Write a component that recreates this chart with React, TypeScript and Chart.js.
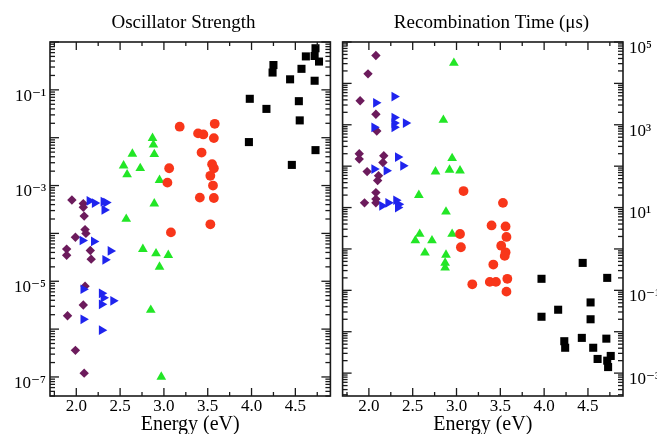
import React, { useEffect, useRef } from "react";
import { Chart, registerables } from "chart.js";

Chart.register(...registerables);

// ---------- Data ----------
// Left panel: Oscillator Strength vs Energy (eV)
const oscPurpleE = [1.95, 2.08, 2.08, 2.09, 2.10, 2.11, 1.99, 1.89, 1.89, 2.16, 2.17, 2.10, 2.08, 1.90, 1.99, 2.09];
const oscPurpleF = [5.0e-4, 4.2e-4, 3.5e-4, 2.3e-4, 1.2e-4, 1.0e-4, 8.3e-5, 4.7e-5, 3.5e-5, 4.4e-5, 2.9e-5, 7.9e-6, 3.2e-6, 1.9e-6, 3.6e-7, 1.2e-7];

const oscBlueE = [2.15, 2.21, 2.31, 2.34, 2.32, 2.07, 2.20, 2.39, 2.33, 2.08, 2.29, 2.31, 2.29, 2.42, 2.08, 2.29];
const oscBlueF = [4.8e-4, 4.3e-4, 4.6e-4, 4.4e-4, 3.1e-4, 7.1e-5, 6.8e-5, 4.3e-5, 2.8e-5, 6.8e-6, 5.6e-6, 4.5e-6, 3.3e-6, 3.9e-6, 1.6e-6, 9.5e-7];

const oscGreenE = [2.87, 2.88, 2.89, 2.64, 2.54, 2.58, 2.73, 2.95, 2.89, 2.57, 2.76, 2.91, 3.05, 2.95, 2.85, 2.97];
const oscGreenF = [9.8e-3, 7.1e-3, 4.5e-3, 4.6e-3, 2.6e-3, 1.7e-3, 2.3e-3, 1.3e-3, 4.2e-4, 2.0e-4, 4.7e-5, 3.8e-5, 3.5e-5, 2.0e-5, 2.5e-6, 1.0e-7];

const oscRedE = [3.18, 3.39, 3.45, 3.58, 3.57, 3.43, 3.06, 3.04, 3.55, 3.57, 3.53, 3.56, 3.41, 3.57, 3.08, 3.53];
const oscRedF = [1.7e-2, 1.23e-2, 1.17e-2, 1.95e-2, 9.8e-3, 4.9e-3, 2.3e-3, 1.15e-3, 2.8e-3, 2.3e-3, 1.6e-3, 1.0e-3, 5.6e-4, 5.5e-4, 1.05e-4, 1.55e-4];

const oscBlackE = [4.73, 4.62, 4.72, 4.77, 4.25, 4.24, 4.57, 4.44, 4.72, 3.98, 4.17, 4.54, 4.55, 3.97, 4.73, 4.46];
const oscBlackF = [0.74, 0.50, 0.51, 0.39, 0.33, 0.23, 0.275, 0.166, 0.155, 0.065, 0.040, 0.058, 0.023, 0.0081, 0.0055, 0.0027];

// Right panel: Recombination Time (us) vs Energy (eV)
const recPurpleE = [2.08, 1.99, 1.90, 2.08, 2.09, 1.89, 1.89, 2.17, 2.16, 1.98, 2.11, 2.10, 2.08, 2.08, 1.95, 2.08];
const recPurpleT = [4.7e4, 1.7e4, 3.8e3, 1.8e3, 710, 200, 148, 178, 123, 74, 59, 45, 23, 16, 13, 13];

const recBlueE = [2.08, 2.29, 2.06, 2.29, 2.29, 2.29, 2.42, 2.33, 2.39, 2.06, 2.20, 2.15, 2.22, 2.31, 2.34, 2.33];
const recBlueT = [3.4e3, 4.8e3, 870, 1.5e3, 1.1e3, 870, 1.1e3, 166, 102, 85, 78, 11, 13, 15, 12, 10];

const recGreenE = [2.97, 2.85, 2.95, 2.76, 2.92, 3.04, 2.57, 2.88, 2.58, 2.53, 2.72, 2.95, 2.64, 2.88, 2.87, 2.87];
const recGreenT = [3.1e4, 1.3e3, 155, 74, 81, 78, 20, 7.9, 2.3, 1.6, 1.6, 2.3, 0.81, 0.72, 0.46, 0.35];

const recRedE = [3.08, 3.53, 3.40, 3.56, 3.57, 3.51, 3.56, 3.55, 3.04, 3.05, 3.42, 3.18, 3.38, 3.45, 3.58, 3.57];
const recRedT = [25, 13, 3.7, 3.5, 1.95, 1.2, 0.83, 0.68, 2.3, 1.1, 0.42, 0.14, 0.16, 0.16, 0.19, 0.093];

const recBlackE = [3.97, 3.97, 4.16, 4.23, 4.24, 4.44, 4.43, 4.53, 4.53, 4.56, 4.72, 4.71, 4.61, 4.72, 4.76, 4.73];
const recBlackT = [0.19, 0.023, 0.034, 0.0059, 0.0041, 0.46, 0.0071, 0.051, 0.020, 0.0041, 0.20, 0.0068, 0.0022, 0.0020, 0.0026, 0.0014];

// Axis ticks
const energyTicks = [2.0, 2.5, 3.0, 3.5, 4.0, 4.5];
const energyMinorTicks = [1.75, 2.25, 2.75, 3.25, 3.75, 4.25, 4.75];
const oscLabelExps = [-1, -3, -5, -7];
const recLabelExps = [5, 3, 1, -1, -3];

// ---------- Styling helpers ----------
const SERIF = "'Liberation Serif', 'Times New Roman', 'DejaVu Serif', serif";
const PURPLE = "#6c1b5c";
const BLUE = "#1f24ee";
const GREEN = "#22e626";
const RED = "#f8361a";
const BLACK = "#000000";

const SUP: Record<string, string> = {
  "-": "\u207B", "0": "\u2070", "1": "\u00B9", "2": "\u00B2", "3": "\u00B3",
  "4": "\u2074", "5": "\u2075", "6": "\u2076", "7": "\u2077", "8": "\u2078", "9": "\u2079",
};
const sup = (n: number) => String(n).split("").map((c) => SUP[c] || c).join("");

const pts = (xs: number[], ys: number[]) => xs.map((x, i) => ({ x, y: ys[i] }));

function makeDatasets(
  purple: [number[], number[]],
  blue: [number[], number[]],
  green: [number[], number[]],
  red: [number[], number[]],
  black: [number[], number[]]
) {
  const base = { showLine: false, borderWidth: 0, clip: false as any };
  return [
    { ...base, data: pts(...red), pointStyle: "circle", pointRadius: 4.9, backgroundColor: RED, borderColor: RED },
    { ...base, data: pts(...green), pointStyle: "triangle", pointRadius: 5.6, backgroundColor: GREEN, borderColor: GREEN },
    { ...base, data: pts(...blue), pointStyle: "triangle", rotation: 90, pointRadius: 5.6, backgroundColor: BLUE, borderColor: BLUE },
    { ...base, data: pts(...purple), pointStyle: "rectRot", pointRadius: 4.7, backgroundColor: PURPLE, borderColor: PURPLE },
    { ...base, data: pts(...black), pointStyle: "rect", pointRadius: 5.7, backgroundColor: BLACK, borderColor: BLACK },
  ];
}

// Inward tick marks on all four sides plus the frame
const frameTicks = {
  id: "frameTicks",
  afterDraw(chart: any) {
    const { ctx, chartArea: a } = chart;
    const xs = chart.scales.x;
    const ys = chart.scales.y;
    ctx.save();
    ctx.strokeStyle = "#1a1a1a";
    ctx.lineWidth = 1.3;
    const line = (x1: number, y1: number, x2: number, y2: number) => {
      ctx.beginPath();
      ctx.moveTo(x1, y1);
      ctx.lineTo(x2, y2);
      ctx.stroke();
    };
    const xt = (v: number, len: number) => {
      const px = xs.getPixelForValue(v);
      if (px < a.left || px > a.right) return;
      line(px, a.top, px, a.top + len);
      line(px, a.bottom, px, a.bottom - len);
    };
    energyTicks.forEach((v) => xt(v, 8));
    energyMinorTicks.forEach((v) => xt(v, 4));
    const lo = Math.floor(Math.log10(ys.min));
    const hi = Math.ceil(Math.log10(ys.max));
    for (let e = lo; e <= hi; e++) {
      for (let m = 1; m <= 9; m++) {
        const v = m * Math.pow(10, e);
        if (v < ys.min || v > ys.max) continue;
        const py = ys.getPixelForValue(v);
        const len = m === 1 ? 9 : 5;
        line(a.left, py, a.left + len, py);
        line(a.right, py, a.right - len, py);
      }
    }
    ctx.lineWidth = 1.6;
    ctx.strokeRect(a.left, a.top, a.right - a.left, a.bottom - a.top);
    ctx.restore();
  },
};

function xScale() {
  return {
    type: "linear",
    min: 1.7,
    max: 4.9,
    grid: { display: false, drawTicks: false },
    border: { display: false },
    afterBuildTicks: (s: any) => {
      s.ticks = energyTicks.map((v) => ({ value: v }));
    },
    afterFit: (s: any) => {
      s.height = 38;
    },
    ticks: {
      autoSkip: false,
      maxRotation: 0,
      padding: 0,
      color: "#000",
      font: { family: SERIF, size: 17 },
      callback: (v: any) => Number(v).toFixed(1),
    },
    title: {
      display: true,
      text: "Energy (eV)",
      color: "#000",
      font: { family: SERIF, size: 20 },
      padding: { top: 0, bottom: -3 },
    },
  };
}

function yScale(min: number, max: number, exps: number[], position: string, width: number, pad: number) {
  return {
    type: "logarithmic",
    position,
    min,
    max,
    grid: { display: false, drawTicks: false },
    border: { display: false },
    afterBuildTicks: (s: any) => {
      s.ticks = exps.map((e) => ({ value: Math.pow(10, e) }));
    },
    afterFit: (s: any) => {
      s.width = width;
    },
    ticks: {
      autoSkip: false,
      padding: pad,
      color: "#000",
      font: { family: SERIF, size: 17, lineHeight: 0.75 },
      // empty first line drops the label slightly below its tick, as in the reference
      callback: (v: any) => ["", "10" + sup(Math.round(Math.log10(Number(v))))],
    },
  };
}

// empty spacer axis so that the title centre matches the reference
function spacer(position: string, width: number) {
  return {
    type: "linear",
    position,
    min: 0,
    max: 1,
    grid: { display: false, drawTicks: false },
    border: { display: false },
    ticks: { display: false },
    afterFit: (s: any) => {
      s.width = width;
    },
  };
}

function baseOptions(title: string, scales: any) {
  return {
    responsive: false,
    animation: false,
    events: [],
    layout: { padding: 0 },
    plugins: {
      legend: { display: false },
      tooltip: { enabled: false },
      title: {
        display: true,
        text: title,
        color: "#000",
        font: { family: SERIF, size: 19, weight: "normal" },
        padding: { top: 12, bottom: 7.2 },
      },
    },
    scales,
  };
}

export default function App() {
  const leftRef = useRef<HTMLCanvasElement>(null);
  const rightRef = useRef<HTMLCanvasElement>(null);

  useEffect(() => {
    const left = new Chart(leftRef.current as HTMLCanvasElement, {
      type: "scatter",
      data: {
        datasets: makeDatasets(
          [oscPurpleE, oscPurpleF],
          [oscBlueE, oscBlueF],
          [oscGreenE, oscGreenF],
          [oscRedE, oscRedF],
          [oscBlackE, oscBlackF]
        ) as any,
      },
      options: baseOptions("Oscillator Strength", {
        x: xScale(),
        y: yScale(4e-8, 1, oscLabelExps, "left", 50, 4),
        sp: spacer("right", 36.6),
      }) as any,
      plugins: [frameTicks],
    });
    const right = new Chart(rightRef.current as HTMLCanvasElement, {
      type: "scatter",
      data: {
        datasets: makeDatasets(
          [recPurpleE, recPurpleT],
          [recBlueE, recBlueT],
          [recGreenE, recGreenT],
          [recRedE, recRedT],
          [recBlackE, recBlackT]
        ) as any,
      },
      options: baseOptions("Recombination Time (\u03BCs)", {
        x: xScale(),
        y: yScale(2.8e-4, 1e5, recLabelExps, "right", 34, 6),
        sp: spacer("left", 16.6),
      }) as any,
      plugins: [frameTicks],
    });
    return () => {
      left.destroy();
      right.destroy();
    };
  }, []);

  return (
    <div style={{ position: "absolute", left: 0, top: 0, width: 657, height: 434, overflow: "hidden", background: "#fff" }}>
      <canvas ref={leftRef} width={367} height={434} style={{ position: "absolute", left: 0, top: 0, width: 367, height: 434 }} />
      <canvas ref={rightRef} width={331} height={434} style={{ position: "absolute", left: 326, top: 0, width: 331, height: 434 }} />
    </div>
  );
}
